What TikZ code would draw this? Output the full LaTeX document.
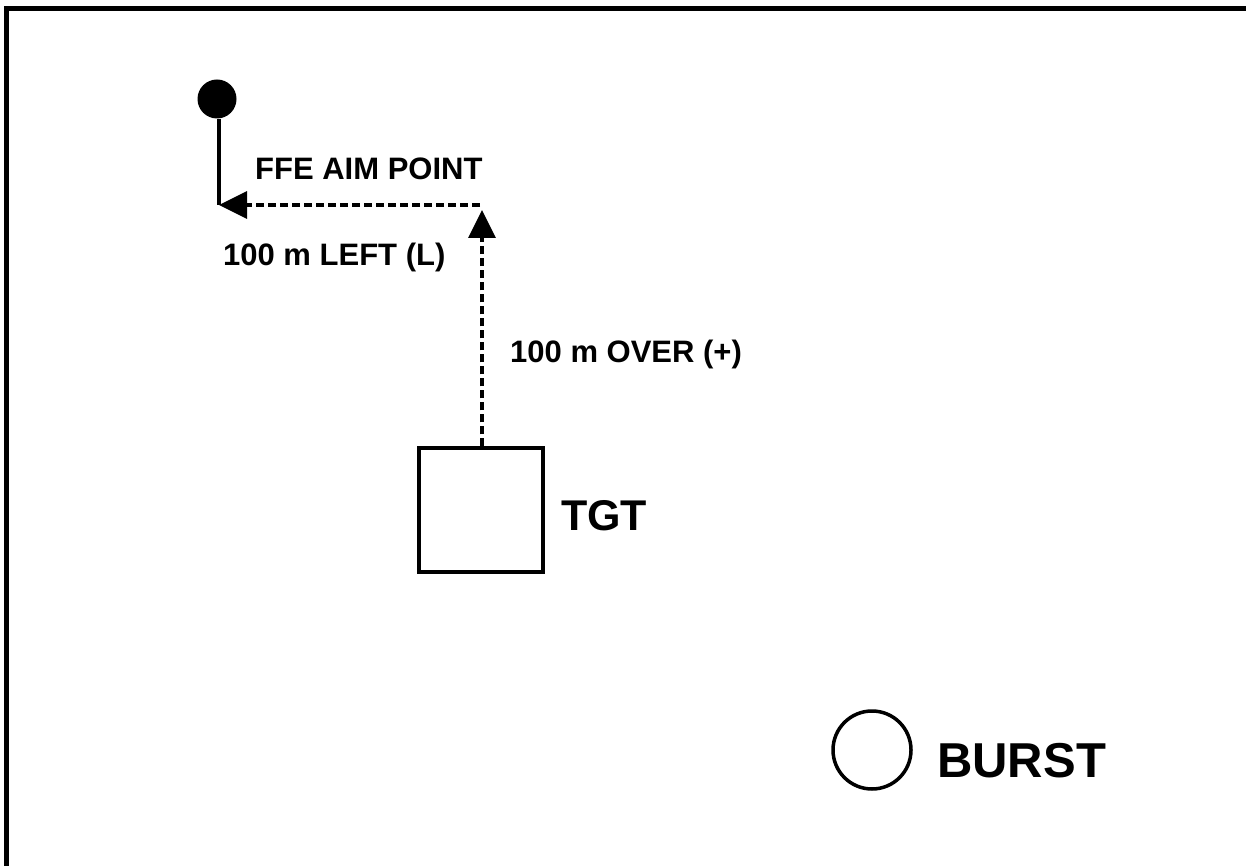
\documentclass[tikz,border=0pt]{standalone}
\usepackage{fontspec}
\setmainfont{Liberation Sans}
\usetikzlibrary{arrows.meta}
\tikzset{
  lbl/.style={anchor=base west, inner sep=0pt, font=\bfseries\fontsize{31}{31}\selectfont},
  dsh/.style={line width=3.5pt, dash pattern=on 8pt off 4pt, -{Triangle[length=28pt,width=27pt]}},
  solid line/.style={line width=3.5pt}
}
\begin{document}
\begin{tikzpicture}[x=1pt,y=-1pt]
\useasboundingbox (0,0) rectangle (1246,866);
\fill[white] (0,0) rectangle (1246,866);
% frame
\draw[line width=5pt] (6,866) -- (6,9) -- (1246,9);
% nodes
\node[circle, fill=black, minimum size=39pt, inner sep=0pt] (dot) at (217,99) {};
\coordinate (aim) at (219,205);
\coordinate (turn) at (480,205);
\coordinate (up) at (482,210);
\node[draw, line width=3.5pt, minimum size=124pt, inner sep=0pt] (tgt) at (481,510) {};
\node[draw, circle, line width=3.5pt, minimum size=78pt, inner sep=0pt] (burst) at (872,750) {};
% connectors
\draw[solid line] (dot.south -| aim) -- (aim);
\draw[dsh] (turn) -- (aim);
\draw[dsh] (tgt.north -| up) -- (up);
% labels
\node[lbl] (ffe) at (255,180) {FFE AIM POINT};
\node[lbl] (left) at (223,266) {100 m LEFT (L)};
\node[lbl] (over) at (510,362) {100 m OVER (+)};
\node[lbl, font=\bfseries\fontsize{43}{43}\selectfont] (tgtl) at (561,530) {TGT};
\node[lbl, font=\bfseries\fontsize{49}{49}\selectfont] (burstl) at (937,777) {BURST};
\end{tikzpicture}
\end{document}
